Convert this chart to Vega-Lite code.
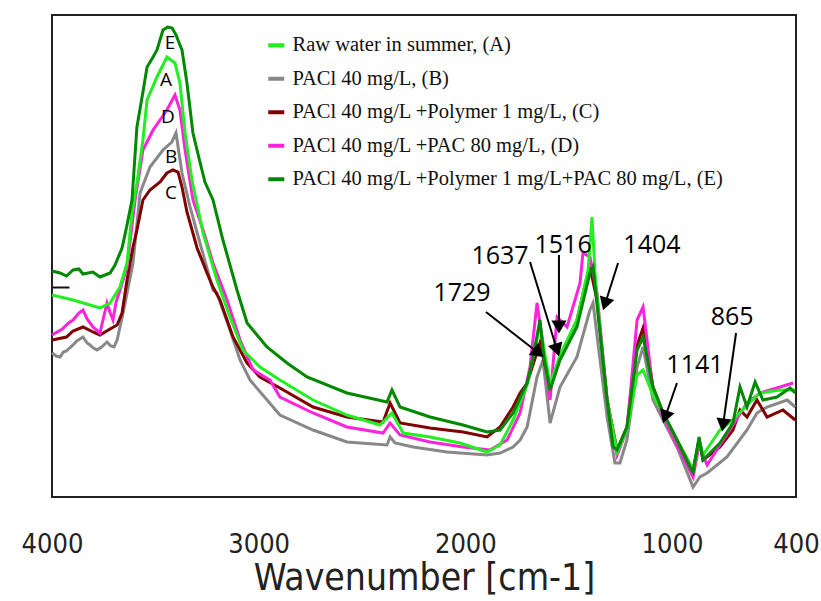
{
  "$schema": "https://vega.github.io/schema/vega-lite/v6.json",
  "width": 744,
  "height": 482,
  "autosize": {"type": "none"},
  "padding": {"left": 52, "top": 15, "right": 25, "bottom": 104},
  "background": "white",
  "config": {"view": {"stroke": "#222", "strokeWidth": 2}, "axis": {"grid": false}},
  "encoding": {
    "x": {
      "field": "wn", "type": "quantitative",
      "scale": {"domain": [400, 4000], "reverse": true, "nice": false, "zero": false},
      "axis": {
        "title": "Wavenumber [cm-1]",
        "values": [4000, 3000, 2000, 1000, 400],
        "format": "d",
        "ticks": false, "domain": false,
        "labelFont": "DejaVu Sans Condensed", "labelFontSize": 27, "labelColor": "#222",
        "labelPadding": 34, "labelFlush": false, "labelOverlap": false,
        "titleFont": "DejaVu Sans Condensed", "titleFontSize": 37, "titleFontWeight": "normal",
        "titleColor": "#222", "titlePadding": 3
      }
    },
    "y": {
      "field": "abs", "type": "quantitative",
      "scale": {"domain": [0, 482], "nice": false, "zero": false},
      "axis": {"title": null, "values": [210], "labels": false, "domain": false, "ticks": true, "zindex": 1, "tickSize": -17, "tickWidth": 2, "tickColor": "#111"}
    }
  },
  "layer": [
    {
      "data": {"values": [
        {"sample": "PACl 40 mg/L, (B)",
         "wn": [4000,3980,3961,3945,3930,3915,3898,3880,3850,3830,3816,3800,3782,3760,3734,3715,3700,3685,3656,3608,3574,3526,3463,3420,3400,3371,3332,3284,3221,3202,3139,3090,3042,2897,2737,2573,2379,2364,2340,2253,2089,1895,1832,1769,1735,1701,1653,1624,1590,1542,1460,1397,1382,1348,1314,1276,1252,1218,1169,1140,1092,1043,976,898,865,830,734,637,589,540,443,404],
         "abs": [144,141,140,145,146,149,152,156,160,154,152,149,147,150,155,151,150,157,184,234,304,330,347,355,364,324,290,254,207,204,167,137,117,82,67,55,52,60,54,50,45,42,44,50,57,70,120,137,74,110,140,187,194,137,80,34,34,57,130,150,97,77,50,10,20,24,40,67,84,90,97,90]},
        {"sample": "PACl 40 mg/L +Polymer 1 mg/L, (C)",
         "wn": [4000,3930,3898,3850,3802,3768,3719,3685,3661,3637,3608,3589,3560,3526,3477,3444,3415,3390,3371,3347,3298,3250,3221,3187,3124,3056,2994,2897,2737,2573,2398,2364,2316,2171,2011,1895,1832,1769,1735,1701,1639,1590,1542,1460,1411,1397,1363,1314,1266,1218,1169,1140,1092,1043,976,898,869,850,768,705,671,637,589,540,463,404],
         "abs": [157,160,166,170,165,162,168,172,184,217,250,267,297,307,315,324,327,325,310,285,249,224,210,197,160,134,120,109,90,80,75,94,74,69,65,60,70,90,104,114,154,110,140,177,220,230,197,97,47,70,152,169,110,84,57,27,57,37,50,67,87,80,97,80,87,77]},
        {"sample": "PACl 40 mg/L +PAC 80 mg/L, (D)",
         "wn": [4000,3975,3950,3920,3898,3870,3850,3830,3802,3768,3750,3734,3720,3705,3690,3671,3637,3598,3560,3511,3444,3405,3381,3356,3318,3269,3221,3153,3090,3027,2945,2897,2737,2573,2398,2364,2316,2171,2011,1881,1798,1735,1687,1653,1624,1590,1556,1508,1445,1431,1397,1363,1314,1266,1218,1169,1140,1092,1043,976,898,869,830,768,705,637,574,477,414],
         "abs": [162,165,168,174,177,184,187,178,170,164,180,194,185,177,195,207,230,297,347,367,387,402,387,347,297,267,234,197,157,127,117,100,84,70,64,74,62,55,50,47,57,84,130,194,152,97,180,170,214,244,240,204,97,42,67,177,190,107,80,52,20,52,32,52,72,94,104,110,114]},
        {"sample": "Raw water in summer, (A)",
         "wn": [4000,3898,3768,3719,3671,3637,3613,3589,3560,3540,3492,3444,3405,3381,3356,3323,3269,3202,3139,3076,2994,2897,2737,2573,2413,2355,2301,2171,2026,1895,1832,1769,1701,1639,1590,1542,1460,1406,1387,1372,1348,1314,1266,1218,1169,1140,1092,1043,976,898,869,850,768,705,637,574,477,404],
         "abs": [202,197,189,194,210,234,284,314,357,397,420,440,434,414,364,317,264,217,180,147,130,117,97,82,72,84,64,60,54,45,52,77,112,172,112,142,177,227,280,222,167,97,45,67,122,127,102,84,57,27,57,42,67,77,92,104,107,107]},
        {"sample": "PACl 40 mg/L +Polymer 1 mg/L+PAC 80 mg/L, (E)",
         "wn": [4000,3961,3930,3898,3870,3850,3802,3768,3719,3695,3661,3637,3613,3589,3560,3540,3511,3492,3463,3440,3419,3400,3381,3371,3347,3318,3290,3260,3221,3173,3105,3056,2960,2863,2766,2573,2379,2355,2316,2171,2011,1895,1832,1769,1701,1672,1639,1620,1590,1542,1460,1397,1382,1348,1314,1285,1266,1218,1169,1140,1092,1043,976,913,898,869,850,768,705,671,637,598,560,492,429,404],
         "abs": [226,224,221,227,228,223,225,220,224,232,249,272,297,370,405,430,440,447,467,470,469,462,452,447,414,364,340,315,297,257,207,174,150,134,120,104,95,107,90,80,72,65,67,84,114,140,177,140,107,137,170,224,230,164,97,50,47,70,147,160,110,84,57,30,25,60,37,54,74,110,90,115,97,100,109,104]}
      ]},
      "transform": [{"flatten": ["wn", "abs"]}],
      "mark": {"type": "line", "strokeWidth": 3},
      "encoding": {
        "color": {
          "field": "sample", "type": "nominal",
          "scale": {
            "domain": ["Raw water in summer, (A)", "PACl 40 mg/L, (B)", "PACl 40 mg/L +Polymer 1 mg/L, (C)", "PACl 40 mg/L +PAC 80 mg/L, (D)", "PACl 40 mg/L +Polymer 1 mg/L+PAC 80 mg/L, (E)"],
            "range": ["#22ee22", "#888888", "#800000", "#ff22dd", "#008800"]
          },
          "legend": {
            "orient": "none", "legendX": 214, "legendY": 20, "title": null,
            "symbolType": "stroke", "symbolSize": 256, "symbolStrokeWidth": 4,
            "labelFont": "Liberation Serif", "labelFontSize": 20.5, "labelColor": "#111",
            "rowPadding": 12.5, "labelOffset": 6, "labelLimit": 600, "padding": 0
          }
        }
      }
    },
    {
      "data": {"values": [
        {"t": "E", "wn": 3429, "abs": 454},
        {"t": "A", "wn": 3448, "abs": 417},
        {"t": "D", "wn": 3439, "abs": 380},
        {"t": "B", "wn": 3424, "abs": 340},
        {"t": "C", "wn": 3424, "abs": 304}
      ]},
      "mark": {"type": "text", "font": "Open Sans", "fontSize": 19, "color": "#000"},
      "encoding": {"text": {"field": "t"}}
    },
    {
      "data": {"values": [
        {"t": "1729", "wn": 2016, "abs": 204},
        {"t": "1637", "wn": 1832, "abs": 241},
        {"t": "1516", "wn": 1527, "abs": 252},
        {"t": "1404", "wn": 1097, "abs": 252},
        {"t": "1141", "wn": 889, "abs": 132},
        {"t": "865", "wn": 709, "abs": 180}
      ]},
      "mark": {"type": "text", "font": "Open Sans", "fontSize": 25, "color": "#000"},
      "encoding": {"text": {"field": "t"}}
    },
    {
      "data": {"values": [
        {"wn": 1900, "abs": 185, "wn2": 1646, "abs2": 144},
        {"wn": 1687, "abs": 235, "wn2": 1556, "abs2": 147},
        {"wn": 1547, "abs": 242, "wn2": 1547, "abs2": 170},
        {"wn": 1261, "abs": 234, "wn2": 1324, "abs2": 193},
        {"wn": 976, "abs": 114, "wn2": 1033, "abs2": 80},
        {"wn": 690, "abs": 164, "wn2": 753, "abs2": 72}
      ]},
      "mark": {"type": "rule", "strokeWidth": 2, "color": "#000"},
      "encoding": {"x2": {"field": "wn2"}, "y2": {"field": "abs2"}}
    },
    {
      "data": {"values": [
        {"wn": 1900, "abs": 185, "wn2": 1646, "abs2": 144},
        {"wn": 1687, "abs": 235, "wn2": 1556, "abs2": 147},
        {"wn": 1547, "abs": 242, "wn2": 1547, "abs2": 170},
        {"wn": 1261, "abs": 234, "wn2": 1324, "abs2": 193},
        {"wn": 976, "abs": 114, "wn2": 1033, "abs2": 80},
        {"wn": 690, "abs": 164, "wn2": 753, "abs2": 72}
      ]},
      "transform": [{"calculate": "atan2((datum.wn - datum.wn2) * 744 / 3600, datum.abs2 - datum.abs) * 180 / PI", "as": "ang"}],
      "mark": {"type": "point", "shape": "triangle-up", "filled": true, "size": 230, "color": "#000", "opacity": 1},
      "encoding": {
        "x": {"field": "wn2", "type": "quantitative", "title": "Wavenumber [cm-1]"},
        "y": {"field": "abs2", "type": "quantitative", "title": null},
        "angle": {"field": "ang", "type": "quantitative", "scale": null}
      }
    },
    {
      "data": {"values": [
        {"wn": 3500}, {"wn": 3000}, {"wn": 2500}, {"wn": 2000}, {"wn": 1500}, {"wn": 1000}, {"wn": 500}
      ]},
      "mark": {"type": "tick", "orient": "vertical", "size": 12, "thickness": 2.5, "color": "#000", "opacity": 1},
      "encoding": {"y": {"datum": 6, "type": "quantitative"}}
    }
  ]
}
